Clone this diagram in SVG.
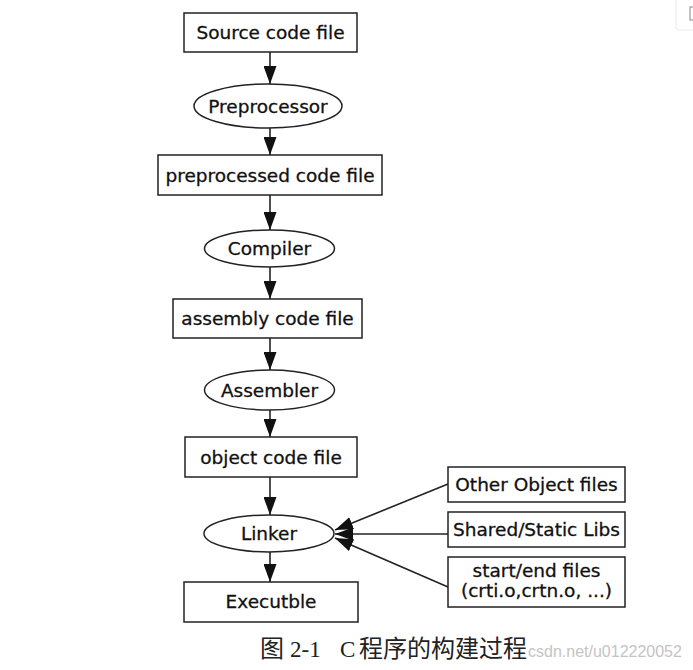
<svg xmlns="http://www.w3.org/2000/svg" width="693" height="670" viewBox="0 0 693 670">
<defs>
<style>
.box{fill:#fff;stroke:#222;stroke-width:1.5}
.lbl{font-family:"DejaVu Sans",Verdana,sans-serif;font-size:18.5px;fill:#111;stroke:#111;stroke-width:0.3;text-anchor:middle}
.edge{stroke:#222;stroke-width:1.6;fill:none}
.cap{font-family:"Liberation Serif","Noto Sans CJK SC",serif;font-size:23px;fill:#222}
.cjk{font-size:24px}
.wm{font-family:"Liberation Sans",Arial,sans-serif;font-size:16px;fill:#c4c4c4}
</style>
<marker id="ah" markerUnits="userSpaceOnUse" markerWidth="19" markerHeight="13" refX="18" refY="6.5" orient="auto">
<path d="M0,0 L18,6.5 L0,13 z" fill="#111"/>
</marker>
</defs>
<rect width="693" height="670" fill="#fff"/>
<g id="ui-corner">
<rect x="676" y="-4" width="30" height="34" rx="3" fill="#fff" stroke="#ebebeb"/>
<rect x="690" y="7" width="6" height="13" fill="none" stroke="#888" stroke-width="1"/>
</g>
<g id="connectors">
<line class="edge" x1="270" y1="52" x2="270" y2="84" marker-end="url(#ah)"/>
<line class="edge" x1="270" y1="128" x2="270" y2="155" marker-end="url(#ah)"/>
<line class="edge" x1="270" y1="195" x2="270" y2="230" marker-end="url(#ah)"/>
<line class="edge" x1="270" y1="267" x2="270" y2="299" marker-end="url(#ah)"/>
<line class="edge" x1="270" y1="338" x2="270" y2="370" marker-end="url(#ah)"/>
<line class="edge" x1="270" y1="410" x2="270" y2="437" marker-end="url(#ah)"/>
<line class="edge" x1="270" y1="477" x2="270" y2="515" marker-end="url(#ah)"/>
<line class="edge" x1="270" y1="552" x2="270" y2="582" marker-end="url(#ah)"/>
<line class="edge" x1="448" y1="484" x2="335" y2="530" marker-end="url(#ah)"/>
<line class="edge" x1="448" y1="534" x2="335" y2="534" marker-end="url(#ah)"/>
<line class="edge" x1="448" y1="587" x2="335" y2="538" marker-end="url(#ah)"/>
</g>
<g id="source">
<rect class="box" x="184" y="13" width="173" height="39"/>
<text class="lbl" x="270.5" y="39">Source code file</text>
</g>
<g id="preprocessor">
<ellipse class="box" cx="268" cy="106" rx="74" ry="22"/>
<text class="lbl" x="268" y="112.5">Preprocessor</text>
</g>
<g id="preprocessed">
<rect class="box" x="158" y="155" width="224" height="40"/>
<text class="lbl" x="270" y="181.5">preprocessed code file</text>
</g>
<g id="compiler">
<ellipse class="box" cx="269.5" cy="248.5" rx="65" ry="18.5"/>
<text class="lbl" x="269.5" y="255">Compiler</text>
</g>
<g id="assembly">
<rect class="box" x="173" y="299" width="189" height="39"/>
<text class="lbl" x="267.5" y="325">assembly code file</text>
</g>
<g id="assembler">
<ellipse class="box" cx="269.5" cy="390" rx="65" ry="20"/>
<text class="lbl" x="269.5" y="396.5">Assembler</text>
</g>
<g id="object">
<rect class="box" x="185" y="437" width="172" height="40"/>
<text class="lbl" x="271" y="463.5">object code file</text>
</g>
<g id="linker">
<ellipse class="box" cx="269" cy="533.5" rx="65" ry="18.5"/>
<text class="lbl" x="269" y="540">Linker</text>
</g>
<g id="executable">
<rect class="box" x="184" y="582" width="174" height="40"/>
<text class="lbl" x="271" y="608">Executble</text>
</g>
<g id="other-objects">
<rect class="box" x="448" y="467" width="177" height="35"/>
<text class="lbl" x="536.5" y="491">Other Object files</text>
</g>
<g id="libs">
<rect class="box" x="448" y="512" width="177" height="35"/>
<text class="lbl" x="536.5" y="535.5">Shared/Static Libs</text>
</g>
<g id="startend">
<rect class="box" x="448" y="557" width="177" height="50"/>
<text class="lbl" x="536.5" y="577">start/end files</text>
<text class="lbl" x="536.5" y="597">(crti.o,crtn.o, ...)</text>
</g>
<g id="caption">
<text class="cap" y="657"><tspan x="260" class="cjk">图</tspan><tspan x="290">2-1</tspan><tspan x="340">C</tspan><tspan x="359" class="cjk">程序的构建过程</tspan></text>
<text class="wm" x="528" y="657">csdn.net/u012220052</text>
</g>
</svg>
